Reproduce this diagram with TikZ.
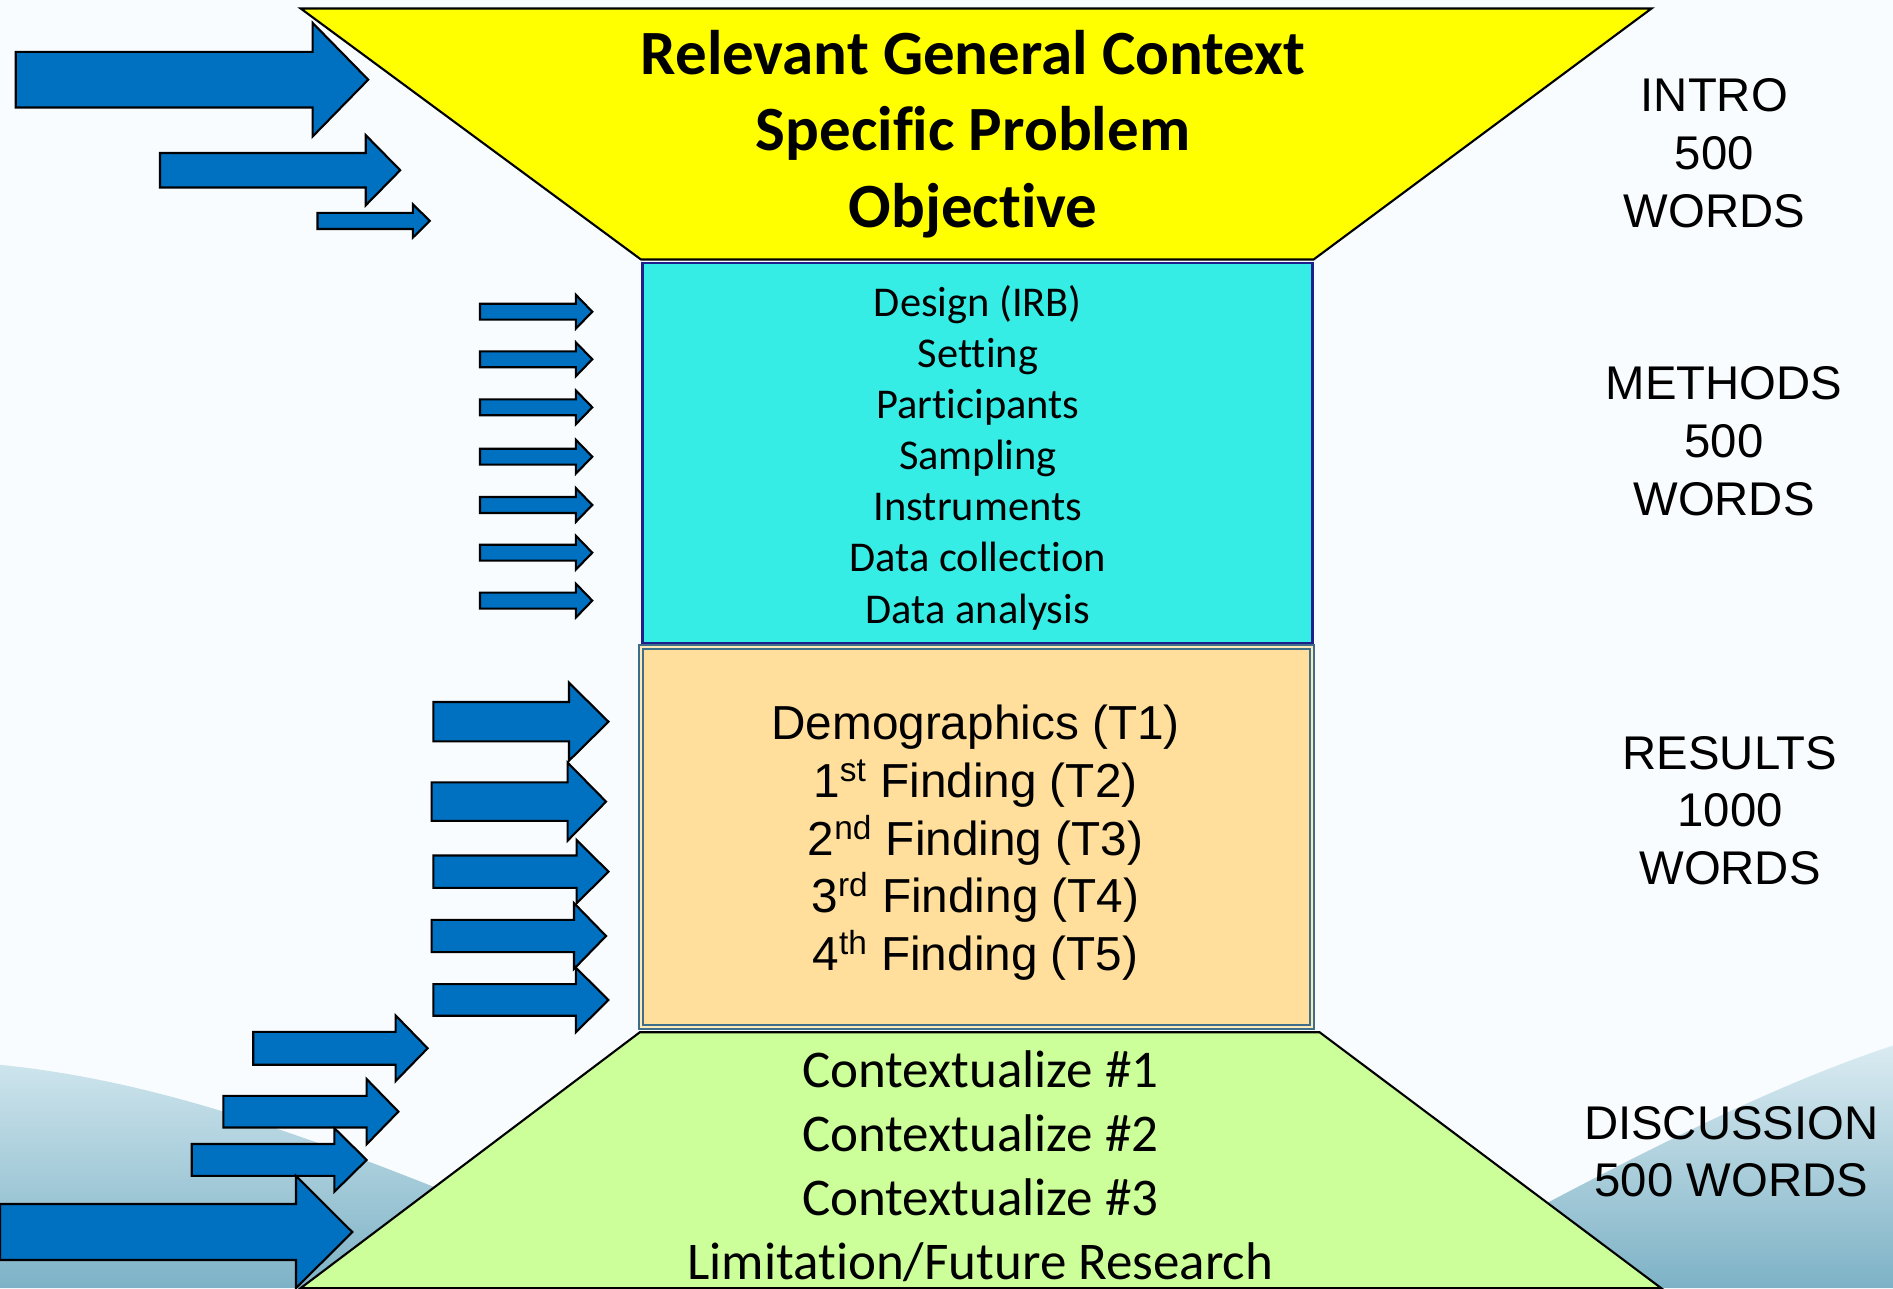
\documentclass[tikz,border=0pt]{standalone}
\usepackage{fontspec}
\setmainfont{Carlito}[Ligatures=NoCommon, RawFeature={-liga;-clig;-calt}]
\newfontfamily\arialfont{Liberation Sans}

\definecolor{bgwhite}{RGB}{249,252,254}
\definecolor{hilltop}{RGB}{205,228,236}
\definecolor{hillbot}{RGB}{125,178,198}
\definecolor{introyellow}{RGB}{255,255,0}
\definecolor{methodcyan}{RGB}{54,237,230}
\definecolor{methodline}{RGB}{30,30,140}
\definecolor{resultbeige}{RGB}{255,223,155}
\definecolor{resultline}{RGB}{61,110,138}
\definecolor{discussgreen}{RGB}{204,255,153}
\definecolor{arrowblue}{RGB}{0,112,192}

\tikzset{
  barrow/.style={fill=arrowblue, draw=black, line width=1pt, line join=miter},
  wordcount/.style={font=\arialfont\fontsize{22.3}{27.3}\selectfont, align=center, inner sep=0pt},
}

% block arrow: shaft start, head base, tip, centre y, half shaft, half head
\newcommand{\blockarrow}[6]{%
  \draw[barrow] (#1,#4-#5) -- (#2,#4-#5) -- (#2,#4-#6) -- (#3,#4)
    -- (#2,#4+#6) -- (#2,#4+#5) -- (#1,#4+#5) -- cycle;}

\begin{document}
\begin{tikzpicture}[x=0.02cm,y=-0.02cm]

\useasboundingbox (0,0) rectangle (1568,1067);
\clip (0,0) rectangle (1568,1067);

\fill[bgwhite] (0,0) rectangle (1568,1067);

% hills
\shade[top color=hilltop, bottom color=hillbot] (0,882) .. controls (150,897) and (300,955) .. (560,1067) -- (0,1067) -- cycle;
\shade[top color=hilltop!70!bgwhite, bottom color=hillbot] (1568,866) .. controls (1450,905) and (1320,975) .. (1150,1067) -- (1568,1067) -- cycle;

% funnel
\draw[fill=introyellow, line width=1pt] (249,7) -- (1368,7) -- (1088,215) -- (531,215) -- cycle;

\draw[fill=methodcyan, draw=methodline, line width=1.2pt] (532,218) rectangle (1087,533);

\draw[fill=resultbeige, draw=resultline, double=resultbeige!70!white, double distance=1pt, line width=0.9pt] (531,536) rectangle (1087,851);

\draw[fill=discussgreen, line width=1pt] (530,855) -- (1093,855) -- (1376,1067) -- (249,1067) -- cycle;

% texts
\node[font=\bfseries\fontsize{29.7}{36.1}\selectfont, align=center, inner sep=0pt] (intro) at (806,111) {Relevant General Context\\Specific Problem\\Objective};

\node[font=\fontsize{20}{24.1}\selectfont, align=center, inner sep=0pt] (methods) at (810,379) {Design (IRB)\\Setting\\Participants\\Sampling\\Instruments\\Data collection\\Data analysis};

\node[font=\arialfont\fontsize{22.5}{27.3}\selectfont, align=center, inner sep=0pt] (results) at (808,698) {Demographics (T1)\\1\textsuperscript{st} Finding (T2)\\2\textsuperscript{nd} Finding (T3)\\3\textsuperscript{rd} Finding (T4)\\4\textsuperscript{th} Finding (T5)};

\node[font=\fontsize{25}{30.2}\selectfont, align=center, inner sep=0pt] (discussion) at (812,966) {Contextualize \#1\\Contextualize \#2\\Contextualize \#3\\Limitation/Future Research};

\node[wordcount] (introwords) at (1420,127) {INTRO\\500\\WORDS};
\node[wordcount] (methodwords) at (1428,365.5) {METHODS\\500\\WORDS};
\node[wordcount] (resultwords) at (1433,671.5) {RESULTS\\1000\\WORDS};
\node[wordcount] (discusswords) at (1434,954) {DISCUSSION\\500 WORDS};

% arrows into intro
\blockarrow{13}{259}{305}{66}{23}{47}
\blockarrow{132.5}{303}{331.5}{141}{14.3}{29}
\blockarrow{263}{342}{356}{183}{6.7}{13.8}

% arrows into methods
\foreach \y in {258.2,297.6,337.4,378.3,418.3,457.8,497.5}
  \blockarrow{397.6}{477}{490.6}{\y}{6.6}{14};

% arrows into results
\blockarrow{359}{471.3}{504}{597.8}{16.3}{32.3}
\blockarrow{357.5}{470.2}{502}{664}{15.9}{32.3}
\blockarrow{359}{477.6}{504}{722}{13.4}{26.2}
\blockarrow{357.5}{475.4}{502}{775.3}{13.4}{27.3}
\blockarrow{359}{477}{504}{828.3}{13.1}{26.7}

% arrows into discussion
\blockarrow{209.8}{327.7}{354.2}{868.3}{13.6}{27.2}
\blockarrow{185}{303.7}{330}{920.8}{13.1}{27}
\blockarrow{158.8}{277}{303.7}{960.8}{13.2}{26.3}
\blockarrow{0}{245.2}{291.8}{1020.5}{23.2}{46.5}

\end{tikzpicture}
\end{document}
